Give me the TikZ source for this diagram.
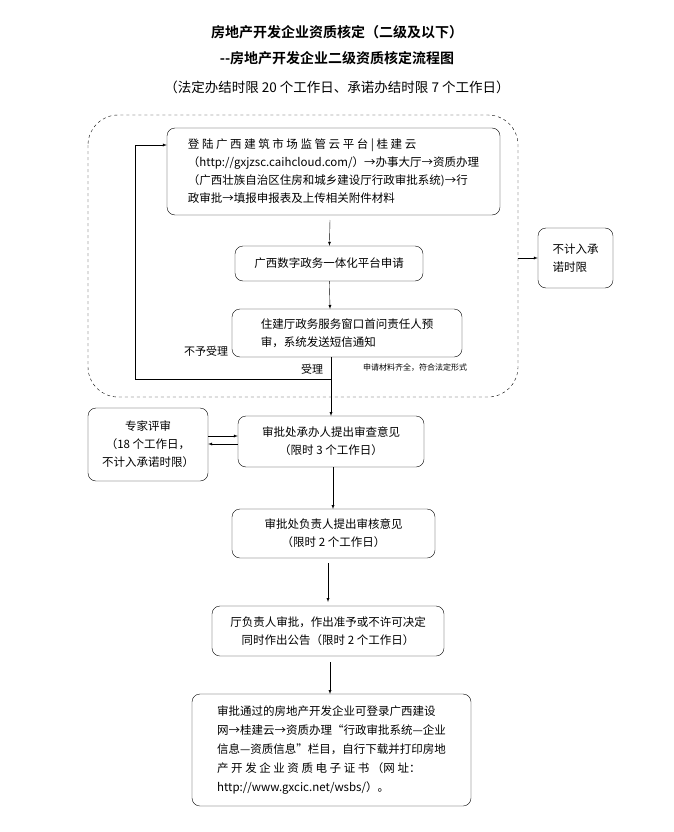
\documentclass[tikz,border=0pt]{standalone}
\usepackage{fontspec}
\setmainfont{Noto Sans CJK SC}
\newfontfamily\titlefont{Noto Sans CJK SC Bold}
\usetikzlibrary{positioning}
\tikzset{
  flowbox/.style={draw,rounded corners=8pt,inner sep=4pt,font=\fontsize{11.5}{18}\selectfont,align=center},
  flowarrow/.style={->,>=latex},
  tag/.style={font=\fontsize{11}{13}\selectfont}
}
\begin{document}
\begin{tikzpicture}[x=1pt,y=-1pt]
	\useasboundingbox (0,0) rectangle (674,832);

	\node[font=\titlefont\fontsize{14}{16}\selectfont] (title1) at (337,32) {房地产开发企业资质核定（二级及以下）};
	\node[font=\titlefont\fontsize{14}{16}\selectfont] (title2) at (337,58) {--房地产开发企业二级资质核定流程图};
	\node[font=\fontsize{13.5}{16}\selectfont] (title3) at (337,87) {（法定办结时限 20 个工作日、承诺办结时限 7 个工作日）};

	\draw[dashed,rounded corners=30pt] (88,115) rectangle (518,397);

	\node[flowbox,minimum width=333,minimum height=87,align=left] (login) at (333.5,171.5)
		{登\ 陆\ 广\ 西\ 建\ 筑\ 市\ 场\ 监\ 管\ 云\ 平\ 台\ |\ 桂\ 建\ 云\\（http://gxjzsc.caihcloud.com/）→办事大厅→资质办理\\（广西壮族自治区住房和城乡建设厅行政审批系统)→行\\政审批→填报申报表及上传相关附件材料};
	\node[flowbox,minimum width=188,minimum height=35] (apply) at (329,263.5) {广西数字政务一体化平台申请};
	\node[flowbox,minimum width=230,minimum height=48,align=left] (window) at (347,333) {住建厅政务服务窗口首问责任人预\\审，系统发送短信通知};
	\node[flowbox,minimum width=75,minimum height=60,align=left] (nocount) at (575.5,258) {不计入承\\诺时限};
	\node[flowbox,minimum width=120,minimum height=73] (expert) at (148,444.5) {专家评审\\（18 个工作日，\\不计入承诺时限）};
	\node[flowbox,minimum width=186,minimum height=51] (review) at (331,441.5) {审批处承办人提出审查意见\\（限时 3 个工作日）};
	\node[flowbox,minimum width=203,minimum height=49] (check) at (333.5,533.5) {审批处负责人提出审核意见\\（限时 2 个工作日）};
	\node[flowbox,minimum width=232,minimum height=50] (decide) at (328,631) {厅负责人审批，作出准予或不许可决定\\同时作出公告（限时 2 个工作日）};
	\node[flowbox,minimum width=279,minimum height=112,align=left,font=\fontsize{11.5}{19}\selectfont] (cert) at (331.5,750)
		{审批通过的房地产开发企业可登录广西建设\\网→桂建云→资质办理“行政审批系统—企业\\信息—资质信息”栏目，自行下载并打印房地\\产\ 开\ 发\ 企\ 业\ 资\ 质\ 电\ 子\ 证\ 书\ （网\ 址：\\http://www.gxcic.net/wsbs/）。};

	\draw[flowarrow] (330,220) -- (apply);
	\draw[flowarrow] (apply) -- (330,309);
	\draw[flowarrow] (331,357) -- (331,416);
	\draw (331,379) -- (135,379) -- (135,145);
	\draw[flowarrow] (135,145) -- (login.west |- 0,145);
	\draw[flowarrow] (518,258) -- (nocount);
	\draw[flowarrow] (expert.east |- 0,436) -- (review.west |- 0,436);
	\draw[flowarrow] (review.west |- 0,444) -- (expert.east |- 0,444);
	\draw[flowarrow] (333,467) -- (333,509);
	\draw[flowarrow] (328,563) -- (328,602);
	\draw[flowarrow] (330,662) -- (330,694);

	\node[tag] (reject) at (206,351) {不予受理};
	\node[tag] (accept) at (312,369) {受理};
	\node[font=\fontsize{8}{10}\selectfont] (complete) at (415,368) {申请材料齐全，符合法定形式};
\end{tikzpicture}
\end{document}
